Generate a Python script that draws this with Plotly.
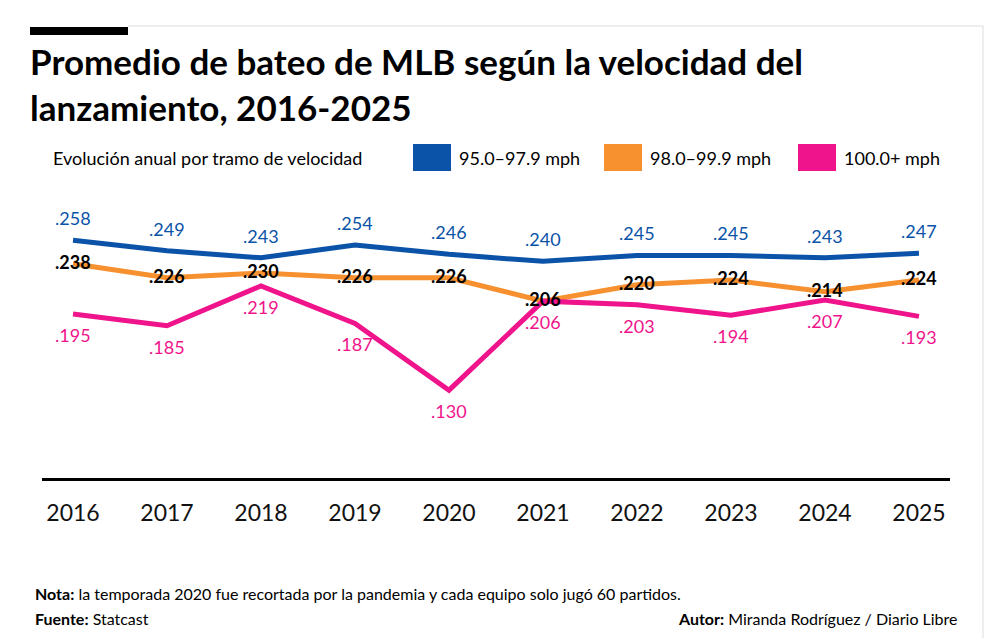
import plotly.graph_objects as go

years = [2016, 2017, 2018, 2019, 2020, 2021, 2022, 2023, 2024, 2025]
s1 = [0.258, 0.249, 0.243, 0.254, 0.246, 0.240, 0.245, 0.245, 0.243, 0.247]
s2 = [0.238, 0.226, 0.230, 0.226, 0.226, 0.206, 0.220, 0.224, 0.214, 0.224]
s3 = [0.195, 0.185, 0.219, 0.187, 0.130, 0.206, 0.203, 0.194, 0.207, 0.193]
names = ["95.0–97.9 mph", "98.0–99.9 mph", "100.0+ mph"]
colors = ["#0a53a8", "#f7902f", "#f0148c"]

W, H = 992, 642
L, R, T, B = 34, 50, 162, 172
PW, PH = W - L - R, H - T - B
F = "Lato"
fig = go.Figure()
for s, c, n in zip([s1, s2, s3], colors, names):
    fig.add_trace(go.Scatter(x=years, y=s, mode="lines", line=dict(color=c, width=5), name=n, showlegend=False))

def fmt(v):
    return ("%.3f" % v)[1:]

for x, v in zip(years, s1):
    fig.add_annotation(x=x, y=v, text=fmt(v), showarrow=False, yshift=22, font=dict(family=F, size=18, color=colors[0]))
for x, v in zip(years, s2):
    fig.add_annotation(x=x, y=v, text="<b>" + fmt(v) + "</b>", showarrow=False, yshift=2, font=dict(family=F, size=18, color="black"))
for x, v in zip(years, s3):
    fig.add_annotation(x=x, y=v, text=fmt(v), showarrow=False, yshift=-21, font=dict(family=F, size=18, color=colors[2]))

def px(x):
    return (x - L) / PW
def py(y):
    return (H - B - y) / PH

fig.add_shape(type="rect", xref="paper", yref="paper", x0=px(22), x1=px(120), y0=py(27), y1=py(19), fillcolor="black", line_width=0)
fig.add_shape(type="line", xref="paper", yref="paper", x0=px(120), x1=px(975), y0=py(18), y1=py(18), line=dict(color="#dddddd", width=1))
fig.add_shape(type="line", xref="paper", yref="paper", x0=px(975), x1=px(975), y0=py(18), y1=py(630), line=dict(color="#dddddd", width=1))

fig.add_annotation(xref="paper", yref="paper", x=px(20), y=py(30), xanchor="left", yanchor="top", align="left",
                   text="<b>Promedio de bateo de MLB según la velocidad del<br>lanzamiento, 2016-2025</b>", showarrow=False,
                   font=dict(family=F, size=35, color="black"))
fig.add_annotation(xref="paper", yref="paper", x=px(43), y=py(150), xanchor="left", yanchor="middle",
                   text="Evolución anual por tramo de velocidad", showarrow=False, font=dict(family=F, size=18, color="black"))
for x0, c, n in zip([405, 596, 790], colors, names):
    fig.add_shape(type="rect", xref="paper", yref="paper", x0=px(x0), x1=px(x0 + 38), y0=py(163), y1=py(136), fillcolor=c, line_width=0)
    fig.add_annotation(xref="paper", yref="paper", x=px(x0 + 44), y=py(150), xanchor="left", yanchor="middle",
                       text=n, showarrow=False, font=dict(family=F, size=18, color="black"))

fig.add_annotation(xref="paper", yref="paper", x=px(25), y=py(585), xanchor="left", yanchor="middle", showarrow=False,
                   text="<b>Nota:</b> la temporada 2020 fue recortada por la pandemia y cada equipo solo jugó 60 partidos.",
                   font=dict(family=F, size=16, color="black"))
fig.add_annotation(xref="paper", yref="paper", x=px(25), y=py(610), xanchor="left", yanchor="middle", showarrow=False,
                   text="<b>Fuente:</b> Statcast", font=dict(family=F, size=16, color="black"))
fig.add_annotation(xref="paper", yref="paper", x=px(952), y=py(610), xanchor="right", yanchor="middle", showarrow=False,
                   text="<b>Autor:</b> Miranda Rodríguez / Diario Libre", font=dict(family=F, size=16, color="black"))

fig.update_layout(
    width=W, height=H, margin=dict(l=L, r=R, t=T, b=B),
    paper_bgcolor="white", plot_bgcolor="white",
    xaxis=dict(range=[2015.67, 2025.33], tickvals=years, ticktext=[str(y) for y in years], showgrid=False,
               zeroline=False, showline=True, linecolor="black", linewidth=3, ticks="", ticklabelstandoff=12,
               tickfont=dict(family=F, size=23, color="#111111")),
    yaxis=dict(range=[0.055, 0.318], visible=False, showgrid=False),
)
fig.write_html("out.html")
